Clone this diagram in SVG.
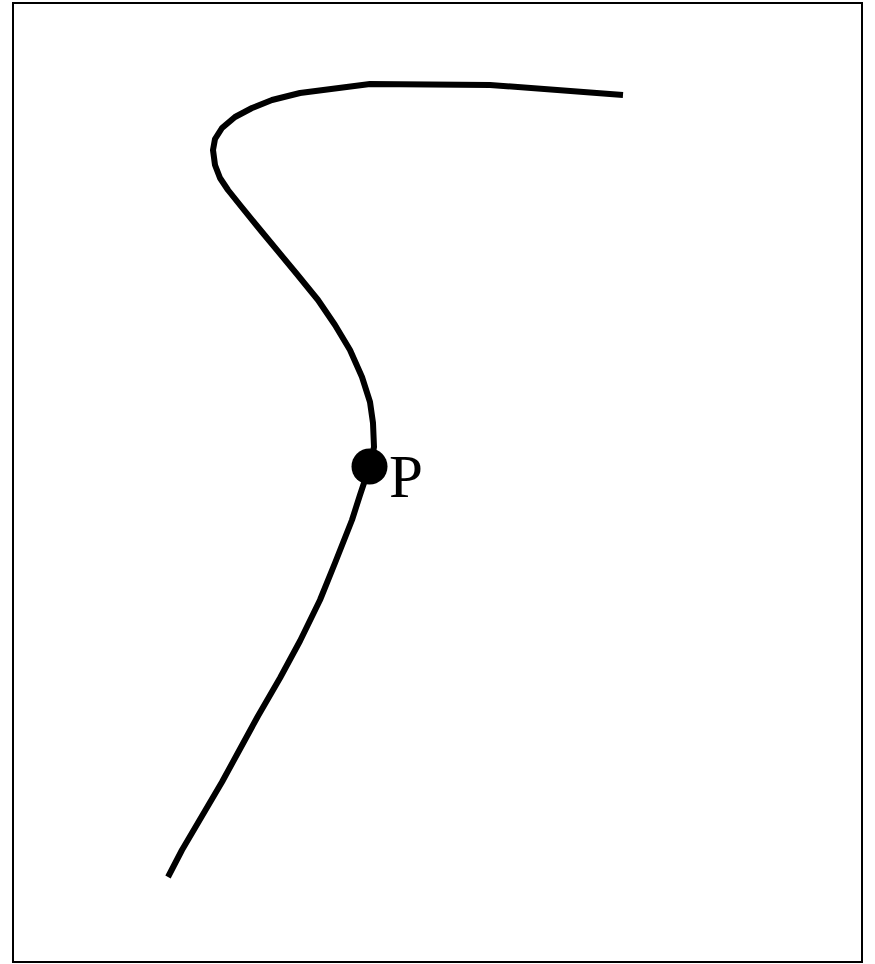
<svg xmlns="http://www.w3.org/2000/svg" width="875" height="964" viewBox="0 0 875 964">
<style>
.frame{fill:#fff;stroke:#000;stroke-width:2}
.curve{fill:none;stroke:#000;stroke-width:6;stroke-linejoin:round}
.lbl{font-family:"Liberation Serif",serif;font-size:61px;fill:#000}
</style>
<rect class="frame" x="13" y="3" width="849" height="959"/>
<g id="connectors">
<polyline class="curve" points="623,95 490,85 370,84 300,93 272,100 252,108 235,117 222,128 215,139 213,150 215,165 220,178 228,190 240,205 262,232 296,273 318,300 335,325 350,350 362,377 370,402 373,423 374,447 370,465 360,495 352,520 335,563 320,600 300,641 280,678 258,716 240,749 222,782 202,816 182,850 168,877"/>
</g>
<g id="P">
<circle cx="369.5" cy="466.5" r="18" fill="#000"/>
<text class="lbl" x="389" y="497">P</text>
</g>
</svg>
